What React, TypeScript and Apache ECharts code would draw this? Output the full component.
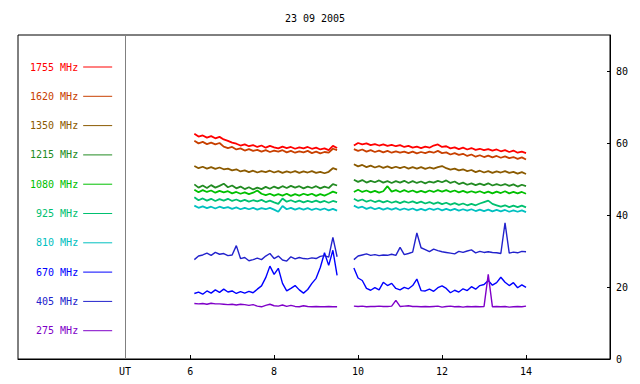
import React, { useEffect, useRef } from "react";
import * as echarts from "echarts";

const TITLE = "23 09 2005";
const FONT = "DejaVu Sans Mono";

// time stamps (UT hours) of the two observing intervals
const T1 = [6.1, 6.2, 6.3, 6.4, 6.5, 6.6, 6.7, 6.8, 6.9, 7.0, 7.1, 7.2, 7.3, 7.4, 7.5, 7.6, 7.7, 7.8, 7.9, 8.0, 8.1, 8.2, 8.3, 8.4, 8.5, 8.6, 8.7, 8.8, 8.9, 9.0, 9.1, 9.2, 9.3, 9.4, 9.5];
const T2 = [9.9, 10.0, 10.1, 10.2, 10.3, 10.4, 10.5, 10.6, 10.7, 10.8, 10.9, 11.0, 11.1, 11.2, 11.3, 11.4, 11.5, 11.6, 11.7, 11.8, 11.9, 12.0, 12.1, 12.2, 12.3, 12.4, 12.5, 12.6, 12.7, 12.8, 12.9, 13.0, 13.1, 13.2, 13.3, 13.4, 13.5, 13.6, 13.7, 13.8, 13.9, 14.0];
const GAP_T = 9.7;

const X_TICKS = [6, 8, 10, 12, 14];
const UT_POS = 4.45;
const Y_TICKS = [0, 20, 40, 60, 80];

const F1755_A = [62.6, 61.8, 62.1, 61.5, 61.9, 61.3, 61.7, 61.0, 60.6, 60.1, 59.8, 59.3, 59.6, 59.1, 59.4, 58.9, 59.3, 58.7, 59.2, 58.8, 58.5, 59.0, 58.6, 58.9, 58.4, 58.8, 58.5, 58.9, 58.4, 58.7, 58.2, 58.5, 58.0, 59.2, 58.6];
const F1755_B = [59.3, 60.0, 59.6, 59.9, 59.4, 59.7, 59.3, 59.6, 59.2, 59.5, 59.1, 59.4, 58.9, 59.2, 58.7, 59.0, 58.6, 59.0, 58.7, 59.3, 59.6, 58.9, 59.1, 58.5, 58.8, 58.3, 58.7, 58.2, 58.6, 58.1, 58.4, 58.0, 58.3, 57.9, 58.2, 57.7, 58.0, 57.5, 57.9, 57.3, 57.6, 57.2];

const F1620_A = [60.6, 59.9, 60.3, 59.7, 60.1, 59.6, 60.0, 59.0, 58.6, 58.9, 58.2, 58.5, 57.9, 58.3, 57.8, 58.1, 57.6, 58.0, 57.5, 57.9, 57.6, 58.0, 57.4, 57.8, 57.3, 57.7, 57.4, 57.8, 57.2, 57.6, 57.1, 57.5, 57.3, 58.4, 58.0];
const F1620_B = [58.3, 57.8, 58.2, 57.6, 58.0, 57.5, 57.9, 57.4, 57.8, 57.3, 57.7, 57.3, 57.6, 57.2, 57.6, 57.1, 57.5, 57.2, 57.6, 57.3, 57.8, 57.2, 57.4, 56.8, 57.2, 56.7, 57.0, 56.4, 56.8, 56.2, 56.6, 56.1, 56.5, 56.0, 56.4, 55.9, 56.3, 55.8, 56.1, 55.6, 56.0, 55.4];

const F1350_A = [53.6, 53.0, 53.4, 52.9, 53.3, 52.8, 53.2, 52.7, 52.9, 52.4, 52.7, 52.1, 52.4, 51.9, 52.3, 51.8, 52.2, 51.9, 52.3, 51.8, 52.2, 51.7, 52.1, 51.8, 52.2, 51.7, 52.1, 51.8, 52.2, 51.7, 52.0, 51.6, 52.0, 53.0, 52.6];
const F1350_B = [54.1, 53.5, 53.9, 53.3, 53.7, 53.2, 53.6, 53.1, 53.5, 53.0, 53.4, 53.0, 53.4, 52.9, 53.3, 52.9, 53.3, 52.8, 53.2, 52.9, 53.3, 53.6, 53.0, 52.6, 52.9, 52.4, 52.7, 52.2, 52.5, 51.9, 52.3, 51.8, 52.2, 51.7, 52.1, 51.8, 52.2, 51.7, 52.0, 51.5, 51.9, 51.4];

const F1215_A = [48.5, 47.6, 48.2, 47.5, 48.3, 47.6, 48.1, 48.7, 47.7, 48.2, 47.4, 47.9, 47.2, 47.7, 47.1, 47.6, 47.2, 47.8, 47.3, 47.9, 47.4, 48.0, 47.5, 48.1, 47.6, 48.0, 47.4, 47.9, 47.5, 48.0, 47.4, 47.9, 47.5, 48.6, 48.2];
const F1215_B = [49.8, 49.2, 49.7, 49.0, 49.5, 49.1, 49.6, 49.0, 49.4, 48.9, 49.4, 49.0, 49.5, 48.9, 49.4, 48.9, 49.3, 48.8, 49.3, 49.0, 49.5, 49.1, 49.6, 48.9, 49.3, 48.6, 49.0, 48.4, 48.8, 48.3, 48.7, 48.3, 48.8, 48.2, 48.6, 48.2, 48.6, 48.1, 48.5, 47.9, 48.4, 48.0];

const F1080_A = [47.0, 46.3, 46.9, 46.4, 46.8, 46.2, 46.7, 46.3, 46.6, 46.0, 46.4, 45.9, 46.3, 45.8, 46.2, 46.8, 45.9, 45.5, 45.9, 45.4, 45.8, 45.4, 45.9, 45.3, 45.8, 45.4, 45.9, 45.5, 45.9, 45.3, 45.8, 45.4, 45.9, 46.5, 46.1];
const F1080_B = [46.4, 47.0, 46.4, 46.8, 46.3, 46.7, 46.2, 46.6, 48.0, 46.5, 46.9, 46.4, 46.9, 46.4, 46.8, 46.3, 46.7, 46.3, 46.8, 46.4, 46.9, 46.5, 46.9, 46.4, 46.8, 46.3, 46.7, 46.2, 46.6, 46.2, 46.6, 46.1, 46.5, 46.0, 46.5, 46.1, 46.6, 46.0, 46.4, 46.0, 46.4, 45.9];

const F925_A = [44.9, 44.1, 44.6, 44.0, 44.5, 43.9, 44.4, 44.0, 44.5, 43.9, 44.3, 43.8, 44.2, 43.7, 44.1, 43.8, 44.2, 43.6, 44.0, 43.5, 43.1, 44.6, 43.7, 44.1, 43.6, 44.0, 43.5, 43.9, 43.6, 44.0, 43.5, 43.9, 43.4, 43.9, 43.6];
const F925_B = [44.5, 43.9, 44.3, 43.7, 44.1, 43.6, 44.0, 43.5, 43.9, 43.4, 43.8, 43.3, 43.8, 43.4, 43.8, 43.3, 43.7, 43.2, 43.6, 43.1, 43.5, 43.0, 43.4, 42.9, 43.3, 42.8, 43.2, 42.7, 43.1, 42.7, 43.2, 43.6, 44.0, 43.1, 42.7, 42.3, 42.7, 42.2, 42.6, 42.2, 42.6, 42.1];

const F810_A = [42.6, 42.0, 42.4, 41.9, 42.3, 41.8, 42.3, 41.9, 42.2, 41.7, 42.1, 41.6, 42.0, 41.6, 42.0, 41.5, 41.9, 41.6, 42.0, 41.5, 40.9, 42.5, 41.6, 42.0, 41.5, 41.9, 41.5, 41.9, 41.4, 41.8, 41.4, 41.8, 41.3, 41.7, 41.2];
const F810_B = [42.6, 42.0, 42.3, 41.7, 42.1, 41.6, 42.0, 41.5, 41.9, 41.5, 41.9, 41.4, 41.8, 41.4, 41.8, 41.3, 41.7, 41.3, 41.8, 41.4, 41.8, 41.3, 41.7, 41.3, 41.7, 41.2, 41.6, 41.2, 41.6, 41.1, 41.5, 41.1, 41.5, 41.0, 41.4, 41.0, 41.4, 40.9, 41.3, 40.9, 41.3, 40.8];

const F670_A = [18.2, 18.6, 18.0, 18.9, 18.3, 19.2, 18.5, 19.4, 18.6, 18.9, 18.2, 18.7, 18.3, 18.8, 18.4, 19.4, 20.3, 22.6, 25.8, 23.5, 25.2, 21.0, 18.9, 19.6, 20.4, 19.2, 18.3, 19.3, 21.0, 22.4, 25.4, 29.5, 26.0, 30.2, 23.2];
const F670_B = [25.3, 22.5, 21.8, 19.6, 19.1, 19.8, 19.2, 21.3, 20.4, 21.0, 19.6, 19.2, 19.9, 19.5, 20.4, 22.2, 19.0, 18.9, 19.4, 18.8, 19.8, 20.3, 19.6, 18.4, 19.1, 18.6, 19.5, 19.0, 20.1, 19.4, 20.4, 20.7, 21.8, 20.5, 21.2, 22.7, 21.3, 20.4, 21.2, 19.8, 20.6, 19.9];

const F405_A = [27.6, 28.6, 28.9, 29.4, 28.8, 29.6, 29.1, 29.3, 28.7, 28.9, 31.5, 27.9, 28.2, 27.3, 27.6, 28.0, 27.6, 28.6, 29.3, 27.9, 28.6, 27.5, 27.2, 28.4, 27.8, 28.2, 27.9, 27.8, 28.1, 27.9, 28.5, 28.7, 28.3, 33.8, 28.4];
const F405_B = [27.6, 28.6, 28.9, 29.2, 28.8, 29.0, 28.7, 28.9, 28.8, 29.1, 28.8, 31.0, 29.0, 29.3, 29.7, 35.0, 30.9, 30.4, 29.8, 30.5, 30.1, 29.8, 29.6, 29.4, 29.2, 29.9, 29.6, 30.0, 30.3, 29.5, 29.9, 29.6, 29.8, 29.6, 29.5, 29.3, 37.8, 29.4, 29.7, 29.5, 29.9, 29.8];

const F275_A = [15.4, 15.3, 15.4, 15.2, 15.5, 15.3, 15.3, 15.2, 15.1, 15.2, 15.0, 15.2, 15.1, 14.9, 15.1, 14.7, 14.5, 14.9, 15.2, 14.8, 14.7, 15.0, 14.6, 14.9, 14.6, 14.5, 14.8, 14.6, 14.5, 14.6, 14.5, 14.5, 14.6, 14.5, 14.5];
const F275_B = [14.7, 14.6, 14.7, 14.5, 14.6, 14.6, 14.7, 14.6, 14.6, 14.7, 16.3, 14.6, 14.7, 14.8, 14.6, 14.6, 14.5, 14.6, 14.5, 14.6, 14.7, 14.4, 14.6, 14.7, 14.5, 14.6, 14.4, 14.6, 14.5, 14.6, 14.5, 14.6, 23.5, 14.5, 14.6, 14.5, 14.6, 14.4, 14.5, 14.6, 14.5, 14.7];

const NAMES = ["1755 MHz", "1620 MHz", "1350 MHz", "1215 MHz", "1080 MHz", "925 MHz", "810 MHz", "670 MHz", "405 MHz", "275 MHz"];
const COLORS = ["#ff0000", "#c84000", "#8b5a00", "#228b22", "#00c000", "#00c070", "#00c0c0", "#0000ff", "#2222cc", "#7f00c8"];
const VALUES_A = [F1755_A, F1620_A, F1350_A, F1215_A, F1080_A, F925_A, F810_A, F670_A, F405_A, F275_A];
const VALUES_B = [F1755_B, F1620_B, F1350_B, F1215_B, F1080_B, F925_B, F810_B, F670_B, F405_B, F275_B];

function buildData(a: number[], b: number[]) {
  const out: any[] = T1.map((t, i) => [t, a[i]]);
  out.push([GAP_T, "-"]);
  T2.forEach((t, i) => out.push([t, b[i]]));
  return out;
}

export default function App() {
  const ref = useRef<HTMLDivElement>(null);
  useEffect(() => {
    document.body.style.margin = "0";
    if (!ref.current) return;
    const chart = echarts.init(ref.current, null, { renderer: "svg" });
    const series: any[] = NAMES.map((name, i) => ({
      name,
      type: "line",
      data: buildData(VALUES_A[i], VALUES_B[i]),
      showSymbol: false,
      symbol: "none",
      connectNulls: false,
      color: COLORS[i],
      lineStyle: { color: COLORS[i], width: i < 7 ? 1.8 : 1.4 },
      z: 3,
      ...(i === 0
        ? {
            markLine: {
              silent: true,
              symbol: "none",
              label: { show: false },
              lineStyle: { color: "#808080", width: 1, type: "solid" },
              data: [{ xAxis: UT_POS }],
            },
          }
        : {}),
    }));
    chart.setOption({
      animation: false,
      backgroundColor: "#ffffff",
      title: {
        text: TITLE,
        left: 310,
        top: 8,
        textAlign: "center",
        textStyle: { fontFamily: FONT, fontSize: 10, fontWeight: "normal", color: "#000" },
      },
      legend: {
        orient: "vertical",
        left: 30,
        top: 60,
        padding: 0,
        align: "right",
        icon: "rect",
        itemWidth: 29,
        itemHeight: 1,
        itemGap: 15.3,
        selectedMode: false,
        textStyle: { fontFamily: FONT, fontSize: 10, lineHeight: 14 },
        data: NAMES.map((n, i) => ({ name: n, textStyle: { color: COLORS[i] }, itemStyle: { color: COLORS[i] } })),
      },
      grid: {
        left: 18,
        right: 30,
        top: 35,
        bottom: 25,
        show: true,
        borderColor: "#000",
        borderWidth: 1,
        containLabel: false,
      },
      xAxis: {
        type: "value",
        min: 1.9,
        max: 16,
        axisLine: { show: true, lineStyle: { color: "#000", width: 1 } },
        axisTick: { show: true, inside: true, length: 4, customValues: X_TICKS, lineStyle: { color: "#000" } },
        axisLabel: {
          show: true,
          customValues: [UT_POS, ...X_TICKS],
          formatter: (v: number) => (v < 5 ? "UT" : String(v)),
          margin: 7,
          fontFamily: FONT,
          fontSize: 10,
          color: "#000",
        },
        splitLine: { show: false },
      },
      yAxis: {
        type: "value",
        position: "right",
        min: 0,
        max: 90,
        axisLine: { show: true, lineStyle: { color: "#000", width: 1 } },
        axisTick: { show: true, inside: true, length: 3, customValues: Y_TICKS, lineStyle: { color: "#000" } },
        axisLabel: {
          show: true,
          customValues: Y_TICKS,
          margin: 6,
          fontFamily: FONT,
          fontSize: 10,
          color: "#000",
        },
        splitLine: { show: false },
      },
      series,
    });
    return () => chart.dispose();
  }, []);
  return <div ref={ref} style={{ width: 640, height: 384 }} />;
}
